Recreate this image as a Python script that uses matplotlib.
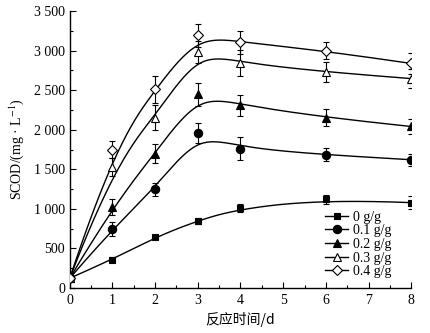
import numpy as np
import matplotlib
matplotlib.use("Agg")
import matplotlib.pyplot as plt
from matplotlib.ticker import MultipleLocator, FuncFormatter

plt.rcParams['font.family'] = ['Liberation Serif', 'DejaVu Serif']
plt.rcParams['mathtext.fontset'] = 'stix'

days = [0, 1, 2, 3, 4, 6, 8]
labels = ['0 g/g', '0.1 g/g', '0.2 g/g', '0.3 g/g', '0.4 g/g']
scod_0 = [125, 360, 646, 850, 1016, 1121, 1079]
scod_01 = [125, 750, 1250, 1958, 1760, 1683, 1621]
scod_02 = [125, 1029, 1696, 2446, 2312, 2154, 2041]
scod_03 = [125, 1530, 2154, 2987, 2841, 2729, 2646]
scod_04 = [125, 1750, 2509, 3196, 3104, 2996, 2837]
err_0 = [20, 30, 30, 40, 50, 55, 85]
err_01 = [20, 88, 81, 125, 142, 83, 77]
err_02 = [20, 100, 118, 142, 133, 108, 98]
err_03 = [20, 110, 156, 140, 160, 130, 120]
err_04 = [20, 112, 166, 145, 142, 108, 137]

series = [scod_0, scod_01, scod_02, scod_03, scod_04]
errors = [err_0, err_01, err_02, err_03, err_04]
markers = ['s', 'o', '^', '^', 'D']
faces = ['black', 'black', 'black', 'white', 'white']
msizes = [5, 6, 6, 6, 5]


def bspline(xs, ys, n=300, k=3):
    P = np.column_stack([xs, ys]).astype(float)
    m = len(P)
    t = np.concatenate([np.zeros(k), np.linspace(0, 1, m - k + 1), np.ones(k)])
    u = np.linspace(0, 1, n)
    u[-1] = 1 - 1e-12
    N = np.zeros((n, len(t) - 1))
    for i in range(len(t) - 1):
        N[:, i] = ((u >= t[i]) & (u < t[i + 1])).astype(float)
    for d in range(1, k + 1):
        Nn = np.zeros((n, len(t) - 1 - d))
        for i in range(len(t) - 1 - d):
            a = 0.0
            if t[i + d] - t[i] > 0:
                a = (u - t[i]) / (t[i + d] - t[i]) * N[:, i]
            b = 0.0
            if t[i + d + 1] - t[i + 1] > 0:
                b = (t[i + d + 1] - u) / (t[i + d + 1] - t[i + 1]) * N[:, i + 1]
            Nn[:, i] = a + b
        N = Nn
    C = N @ P
    return C[:, 0], C[:, 1]


fig = plt.figure(figsize=(4.31, 3.33), dpi=100)
ax = fig.add_axes([0.162, 0.135, 0.792, 0.832])

for ys, es, mk, fc, ms, lab in zip(series, errors, markers, faces, msizes, labels):
    cx, cy = bspline(days, ys)
    ax.plot(cx, cy, color='black', lw=1.0, zorder=2)
    ax.errorbar(days, ys, yerr=es, fmt='none', ecolor='black', elinewidth=0.8,
                capsize=2.5, capthick=0.8, zorder=3)
    ax.plot(days, ys, linestyle='none', marker=mk, markersize=ms,
            markerfacecolor=fc, markeredgecolor='black', markeredgewidth=0.8, zorder=4)
    ax.plot([], [], color='black', lw=1.0, marker=mk, markersize=ms,
            markerfacecolor=fc, markeredgecolor='black', markeredgewidth=0.8, label=lab)

ax.set_xlim(0, 8)
ax.set_ylim(0, 3500)
ax.xaxis.set_major_locator(MultipleLocator(1))
ax.xaxis.set_minor_locator(MultipleLocator(0.5))
ax.yaxis.set_major_locator(MultipleLocator(500))
ax.yaxis.set_minor_locator(MultipleLocator(250))


def fmt(v, pos):
    v = int(round(v))
    if v >= 1000:
        return f"{v // 1000} {v % 1000:03d}"
    return str(v)


ax.yaxis.set_major_formatter(FuncFormatter(fmt))
ax.spines['top'].set_visible(False)
ax.spines['right'].set_visible(False)
for s in ['left', 'bottom']:
    ax.spines[s].set_linewidth(1.0)
ax.tick_params(which='major', direction='in', length=4, width=0.8, labelsize=10)
ax.tick_params(which='minor', direction='in', length=2, width=0.8)
ax.tick_params(axis='x', pad=4)

ax.set_ylabel(r'SCOD/(mg · L$^{-1}$)', fontsize=10, labelpad=6)
ax.set_xlabel('反应时间/d', fontsize=10, family=['Noto Sans CJK SC', 'DejaVu Sans'], labelpad=4)

leg = ax.legend(loc='lower right', bbox_to_anchor=(0.965, 0.005), frameon=False, fontsize=10,
                handlelength=1.7, handletextpad=0.3, labelspacing=0.05, borderaxespad=0.2)

fig.savefig('out.png', dpi=100)
